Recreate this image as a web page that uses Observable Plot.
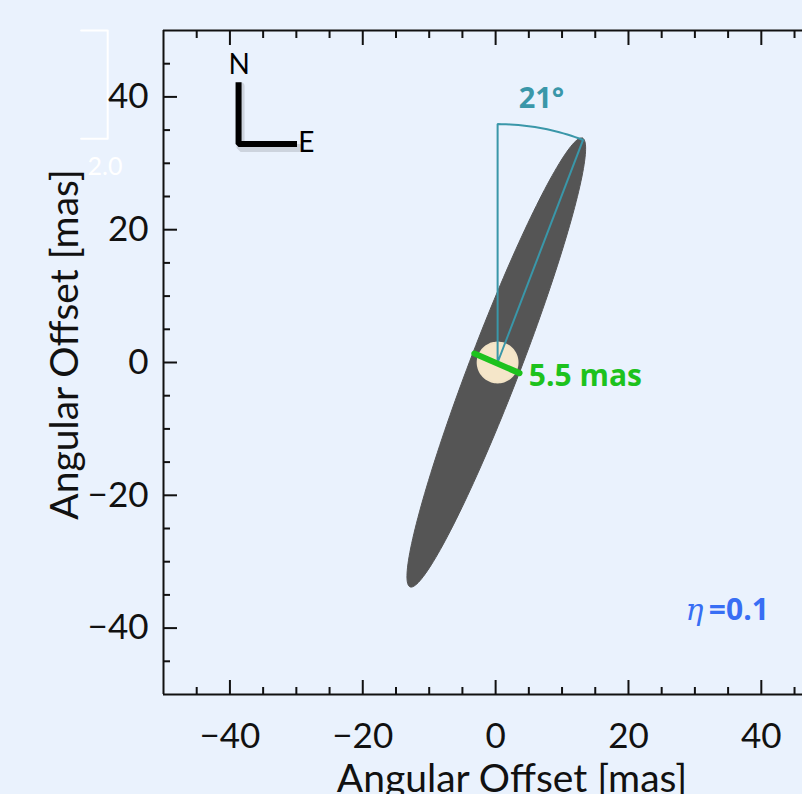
<!DOCTYPE html>
<html><head><meta charset="utf-8">
<script src="https://cdn.jsdelivr.net/npm/d3@7"></script>
<script src="https://cdn.jsdelivr.net/npm/@observablehq/plot@0.6"></script>
<style>
html,body{margin:0;padding:0;background:#eaf2fd;overflow:hidden;}
</style></head><body><div id="chart"></div>
<script>
// ---- data ----
const xDomain = [-50, 46.2];
const yDomain = [-50, 50];
const majorTicks = [-40, -20, 0, 20, 40];
const minorTicks = [-45, -35, -30, -25, -15, -10, -5, 5, 10, 15, 25, 30, 35, 45];
const axisTitle = "Angular Offset [mas]";

// elongated source image (ellipse), in mas
const ellipseCenter = [0.1, 0];
const ellipseSemiMajor = 36.2;
const ellipseSemiMinor = 3.8;
const positionAngleDeg = 21;

// source disk
const diskCenter = [0.3, 0];
const diskRadius = 3.0;

// angle indicator
const angleRadius = 35.9;
const angleLabel = "21°";
const angleLabelPos = [{x: 6.9, y: 39.7}];

// size bar
const sizeBar = [{x: -3.2, y: 1.35}, {x: 3.6, y: -1.6}];
const sizeLabel = "5.5 mas";
const sizeLabelPos = [{x: 5.0, y: -2.1}];

// eta label
const etaPos = [{x: 28.6, y: -37.3}];
const etaValuePos = [{x: 32.1, y: -37.3}];

// compass
const compass = [{x: -38.7, y: 42.2}, {x: -38.7, y: 32.9}, {x: -29.9, y: 32.9}];
const compassN = [{x: -38.6, y: 44.8}];
const compassE = [{x: -29.7, y: 33.0}];

// faint colour-bar remnant outside frame
const barStub = [{x: -62.4, y: 50}, {x: -58.4, y: 50}, {x: -58.4, y: 33.7}, {x: -62.4, y: 33.7}];
const barStubLabel = [{x: -58.8, y: 29.5}];

// ---- geometry built from parameters ----
const pa = positionAngleDeg * Math.PI / 180;
const ellipsePts = d3.range(0, 361, 2).map(deg => {
  const t = deg * Math.PI / 180;
  const a = ellipseSemiMajor * Math.cos(t), b = ellipseSemiMinor * Math.sin(t);
  return {x: ellipseCenter[0] + a * Math.sin(pa) + b * Math.cos(pa),
          y: ellipseCenter[1] + a * Math.cos(pa) - b * Math.sin(pa)};
});
const diskPts = d3.range(0, 361, 6).map(deg => {
  const t = deg * Math.PI / 180;
  return {x: diskCenter[0] + diskRadius * Math.cos(t), y: diskCenter[1] + diskRadius * Math.sin(t)};
});
const anglePath = [{x: diskCenter[0], y: 0}].concat(
  d3.range(0, positionAngleDeg + 0.01, 1).map(deg => {
    const t = deg * Math.PI / 180;
    return {x: diskCenter[0] + angleRadius * Math.sin(t), y: angleRadius * Math.cos(t)};
  }),
  [{x: diskCenter[0], y: 0}]
);

const black = "#111";
const teal = "#3a97a9";
const green = "#1dc21d";
const blue = "#386ef4";
const bg = "#eaf2fd";

const chart = Plot.plot({
  width: 802,
  height: 794,
  marginLeft: 163,
  marginRight: 0,
  marginTop: 30,
  marginBottom: 100,
  x: {domain: xDomain, axis: null, label: null},
  y: {domain: yDomain, axis: null, label: null},
  style: {background: bg, fontFamily: "Lato, sans-serif", overflow: "visible"},
  marks: [
    // image
    Plot.line(ellipsePts, {x: "x", y: "y", fill: "#555555", stroke: "#555555", strokeWidth: 1}),
    Plot.line(diskPts, {x: "x", y: "y", fill: "#f5e6c9", stroke: "#f2e3c6", strokeWidth: 2, curve: "catmull-rom-closed"}),
    Plot.line(anglePath, {x: "x", y: "y", stroke: teal, strokeWidth: 2, strokeLinejoin: "miter"}),
    Plot.line(sizeBar, {x: "x", y: "y", stroke: green, strokeWidth: 6}),
    Plot.text(angleLabelPos, {x: "x", y: "y", text: () => angleLabel, fill: teal, fontSize: 29, fontWeight: "bold", fontFamily: "Open Sans"}),
    Plot.text(sizeLabelPos, {x: "x", y: "y", text: () => sizeLabel, fill: green, fontSize: 30, fontWeight: "bold", textAnchor: "start", fontFamily: "Open Sans"}),
    Plot.text(etaPos, {x: "x", y: "y", text: () => "η", fill: blue, fontSize: 30, fontStyle: "italic", textAnchor: "start", fontFamily: "DejaVu Serif"}),
    Plot.text(etaValuePos, {x: "x", y: "y", text: () => "=0.1", fill: blue, fontSize: 30, fontWeight: "bold", textAnchor: "start", fontFamily: "Open Sans"}),
    // compass
    Plot.line(compass, {x: "x", y: "y", stroke: "#000", strokeOpacity: 0.12, strokeWidth: 8, dx: 2, dy: 4, strokeLinejoin: "miter"}),
    Plot.line(compass, {x: "x", y: "y", stroke: "#000", strokeWidth: 6, strokeLinejoin: "miter", strokeLinecap: "butt"}),
    Plot.text(compassN, {x: "x", y: "y", text: () => "N", fontSize: 28, fill: "#000"}),
    Plot.text(compassE, {x: "x", y: "y", text: () => "E", fontSize: 28, fill: "#000", textAnchor: "start"}),
    // faint remnant
    Plot.line(barStub, {x: "x", y: "y", stroke: "#ffffff", strokeWidth: 2, clip: false}),
    Plot.text(barStubLabel, {x: "x", y: "y", text: () => "2.0", fill: "#ffffff", fontSize: 25}),
    // frame
    Plot.ruleY([yDomain[0], yDomain[1]], {stroke: black, strokeWidth: 2}),
    Plot.ruleX([xDomain[0]], {stroke: black, strokeWidth: 2}),
    // ticks (inward)
    Plot.axisX(majorTicks, {anchor: "bottom", tickSize: -14, fill: "none", stroke: black, strokeWidth: 2, label: null}),
    Plot.axisX(minorTicks, {anchor: "bottom", tickSize: -7, fill: "none", stroke: black, strokeWidth: 2, label: null}),
    Plot.axisX(majorTicks, {anchor: "top", tickSize: -14, fill: "none", stroke: black, strokeWidth: 2, label: null}),
    Plot.axisX(minorTicks, {anchor: "top", tickSize: -7, fill: "none", stroke: black, strokeWidth: 2, label: null}),
    Plot.axisY(majorTicks, {anchor: "left", tickSize: -14, fill: "none", stroke: black, strokeWidth: 2, label: null}),
    Plot.axisY(minorTicks, {anchor: "left", tickSize: -7, fill: "none", stroke: black, strokeWidth: 2, label: null}),
    // tick labels
    Plot.axisX(majorTicks, {anchor: "bottom", tickSize: 0, tickPadding: 29, fontSize: 35, fill: black, label: null}),
    Plot.axisY(majorTicks, {anchor: "left", tickSize: 0, tickPadding: 15, fontSize: 35, fill: black, label: null}),
    // axis titles
    Plot.text([axisTitle], {frameAnchor: "bottom", text: d => d, textAnchor: "middle", lineAnchor: "middle", dx: 29, dy: 85, fontSize: 39, fill: black}),
    Plot.text([axisTitle], {frameAnchor: "left", text: d => d, textAnchor: "middle", lineAnchor: "middle", rotate: -90, dx: -98, dy: -18, fontSize: 39, fill: black})
  ]
});
document.getElementById("chart").appendChild(chart);
</script>
</body></html>
